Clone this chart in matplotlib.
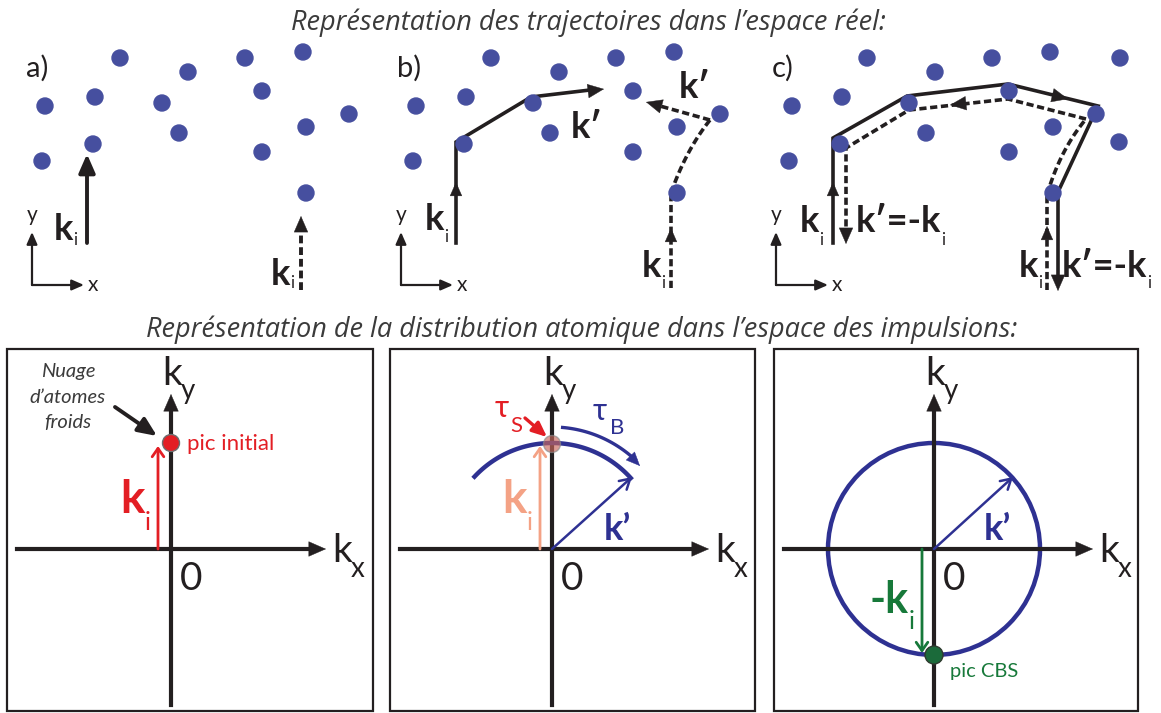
import numpy as np
import matplotlib.pyplot as plt
from matplotlib.patches import Circle, Rectangle

plt.rcParams['font.family'] = ['Lato', 'DejaVu Sans']

# scatterer positions (pixels) of panel a), panels b) and c) are shifted copies
dots_a = [(120, 58), (188, 72), (245, 58), (303, 52), (45, 106), (95, 97), (162, 103),
          (262, 91), (349, 114), (179, 133), (306, 127), (42, 161), (93, 144),
          (262, 152), (306, 193)]
shift_b = 371
shift_c = 747
dots_c_extra = [(1120, 58), (1119, 142)]

# trajectories
path_b_solid = [(456, 243), (456, 142), (531, 97), (590, 90)]
path_b_dash = [(671, 288), (671, 193)]
path_c_solid = [(833, 243), (833, 138), (907, 96), (1008, 84), (1098, 106), (1058, 192), (1058, 278)]
path_c_dash = [(1086, 119), (1008, 99), (909, 110), (846, 148), (846, 232)]

title_top = "Représentation des trajectoires dans l’espace réel:"
title_bot = "Représentation de la distribution atomique dans l’espace des impulsions:"

dot_col = '#464f9f'
blue = '#2e3192'
red = '#e31e24'
green = '#17793a'
salmon = '#f4a285'
ink = '#231f20'

fig = plt.figure(figsize=(11.61, 7.13), dpi=100)
ax = fig.add_axes([0, 0, 1, 1])
ax.set_xlim(0, 1161)
ax.set_ylim(713, 0)
ax.axis('off')
renderer = fig.canvas.get_renderer()


def head(tip, u, color=ink, size=13, style='-|>,head_length=0.8,head_width=0.35'):
    u = np.array(u, float)
    u = u / np.hypot(*u)
    frm = np.array(tip) - u * 10
    ax.annotate('', xy=tip, xytext=tuple(frm),
                arrowprops=dict(arrowstyle=style, color=color, lw=0.3,
                                mutation_scale=size, shrinkA=0, shrinkB=0))


def arrow(p0, p1, color=ink, lw=2.6, size=13, style='-|>,head_length=0.8,head_width=0.35'):
    ax.annotate('', xy=p1, xytext=p0,
                arrowprops=dict(arrowstyle=style, color=color, lw=lw,
                                mutation_scale=size, shrinkA=0, shrinkB=0))


def dline(pts, lw=2.6):
    pts = np.array(pts)
    ax.plot(pts[:, 0], pts[:, 1], color=ink, lw=lw, dashes=(2.0, 1.0), solid_capstyle='butt')


def qcurve(p0, c, p1, n=30):
    t = np.linspace(0, 1, n)[:, None]
    return (1 - t) ** 2 * np.array(p0) + 2 * (1 - t) * t * np.array(c) + t ** 2 * np.array(p1)


def dots(pts, dx):
    for x, y in pts:
        ax.add_patch(Circle((x + dx, y), 8, color=dot_col, zorder=3))


def xy_axes(x0, y0):
    arrow((x0, y0), (x0, 232), lw=1.6, size=9)
    arrow((x0, y0), (x0 + 52, y0), lw=1.6, size=9)
    ax.text(x0, 221, 'y', fontsize=15, ha='center', va='baseline', color=ink)
    ax.text(x0 + 56, y0, 'x', fontsize=15, ha='left', va='center', color=ink)


def ksub(x, y, main, sub, fs, sfs, gap, dy, color=ink, weight='bold'):
    t = ax.text(x, y, main, fontsize=fs, fontweight=weight, color=color, ha='left', va='baseline')
    bb = t.get_window_extent(renderer)
    xe = ax.transData.inverted().transform((bb.x1, bb.y0))[0]
    ax.text(xe + gap, y + dy, sub, fontsize=sfs, color=color, ha='left', va='baseline')


# ---------------- titles
tfont = ['Open Sans', 'DejaVu Sans']
ax.text(588, 30, title_top, fontsize=19.5, style='italic', color='#3b3b3b', ha='center',
        va='baseline', family=tfont)
ax.text(582, 337, title_bot, fontsize=19.5, style='italic', color='#3b3b3b', ha='center',
        va='baseline', family=tfont)

# ---------------- panel a
dots(dots_a, 0)
ax.text(26, 77, 'a)', fontsize=21, color=ink, ha='left', va='baseline')
xy_axes(32, 285)
arrow((87, 243), (87, 154), lw=2.8, size=14)
ksub(54, 240, 'k', 'i', 26, 12, 0, 5)
dline([(301, 290), (301, 226)], lw=2.8)
head((301, 216), (0, -1), size=14)
ksub(271, 285, 'k', 'i', 26, 12, 0, 3)

# ---------------- panel b
dots(dots_a, shift_b)
ax.text(397, 77, 'b)', fontsize=21, color=ink, ha='left', va='baseline')
xy_axes(401, 285)
pb = np.array(path_b_solid)
ax.plot(pb[:, 0], pb[:, 1], color=ink, lw=2.6, solid_joinstyle='miter')
head((604, 89), (1, -0.13), size=14)
head((456, 182), (0, -1), size=12)
ksub(425, 230, 'k', 'i', 26, 12, 0, 12)
ax.text(571, 138, 'k′', fontsize=26, fontweight='bold', color=ink, ha='left', va='baseline')
dline(path_b_dash)
dline(qcurve((671, 193), (686, 150), (710, 120)))
dline([(710, 120), (660, 106)])
head((646, 102), (-1, -0.28), size=14)
head((671, 228), (0, -1), size=12)
ksub(642, 277, 'k', 'i', 26, 12, 0, 11)
ax.text(679, 98, 'k′', fontsize=26, fontweight='bold', color=ink, ha='left', va='baseline')

# ---------------- panel c
dots(dots_a, shift_c)
dots(dots_c_extra, 0)
ax.text(772, 77, 'c)', fontsize=21, color=ink, ha='left', va='baseline')
xy_axes(776, 285)
pc = np.array(path_c_solid)
ax.plot(pc[:, 0], pc[:, 1], color=ink, lw=2.6, solid_joinstyle='miter')
head((1058, 291), (0, 1), size=14)
head((833, 182), (0, -1), size=12)
head((1068, 99), (1, 0.24), size=14)
dline([(1047, 290), (1047, 195)])
dline(qcurve((1047, 195), (1060, 150), (1086, 119)))
dline(path_c_dash)
head((846, 244), (0, 1), size=14)
head((1047, 226), (0, -1), size=12)
head((950, 105), (-1, 0.11), size=14)
ksub(800, 232, 'k', 'i', 26, 12, 0, 13)
ksub(856, 232, 'k′=-k', 'i', 26, 12, 0, 13)
ksub(1019, 277, 'k', 'i', 26, 12, 0, 11)
ksub(1062, 277, 'k′=-k', 'i', 26, 12, 0, 11)

# ---------------- momentum panels
boxes = [(7, 373), (390, 755), (774, 1138)]
origins = [(171, 549), (552, 549), (934, 549)]
radius = 106
for (x0, x1), (ox, oy) in zip(boxes, origins):
    ax.add_patch(Rectangle((x0, 349), x1 - x0, 362, fill=False, ec=ink, lw=1.6))
    ax.plot([ox, ox], [705, 408], color=ink, lw=3)
    ax.plot([x0 + 10, ox + 140], [oy, oy], color=ink, lw=3)
    head((ox, 394), (0, -1), size=15)
    head((x0 + 319, oy), (1, 0), size=15)
    ksub(ox - 9, 385, 'k', 'y', 28, 20, -1, 14, weight='normal')
    ksub(x0 + 325, 562, 'k', 'x', 28, 20, -1, 15, weight='normal')
    ax.text(ox + 9, 590, '0', fontsize=28, color=ink, ha='left', va='baseline')

# panel 1
ax.add_patch(Circle((171, 443), 8.5, fc=red, ec='#6d6e70', lw=1, zorder=4))
arrow((158, 549), (158, 446), color=red, lw=2, size=12, style='->,head_length=0.5,head_width=0.35')
ksub(120, 513, 'k', 'i', 33, 18, 0, 17, color=red)
ax.text(187, 450, 'pic initial', fontsize=16, color=red, ha='left', va='baseline')
for txt, yy in zip(['Nuage', 'd’atomes', 'froids'], [377, 403, 428]):
    ax.text(68, yy, txt, fontsize=14.5, style='italic', color='#3b3b3b', ha='center', va='baseline')
arrow((115, 407), (157, 436), lw=2.8, size=14)

# panel 2
ox, oy = origins[1]
th = np.radians(np.linspace(42, 137, 80))
ax.plot(ox + radius * np.cos(th), oy - radius * np.sin(th), color=blue, lw=3.2)
arrow((540, 549), (540, 446), color=salmon, lw=2, size=12, style='->,head_length=0.5,head_width=0.35')
ax.add_patch(Circle((552, 444), 8.5, fc='#c9675c', ec='#8a8a8a', lw=1, alpha=0.65, zorder=4))
ksub(502, 513, 'k', 'i', 33, 18, 0, 17, color=salmon)
arrow((552, 549), (632, 477), color=blue, lw=1.8, size=12, style='->,head_length=0.6,head_width=0.35')
ax.text(604, 540, 'k’', fontsize=26, fontweight='bold', color=blue, ha='left', va='baseline')
tb = np.radians(np.linspace(85, 47, 40))
ax.plot(ox + 122 * np.cos(tb), oy - 122 * np.sin(tb), color=blue, lw=2.4)
head((640, 466), (0.72, 0.75), color=blue, size=12)
arrow((525, 418), (547, 437), color=red, lw=2.4, size=11)
ksub(495, 417, 'τ', 'S', 22, 16, 1, 15, color=red, weight='normal')
ksub(593, 420, 'τ', 'B', 22, 16, 3, 14, color=blue, weight='normal')

# panel 3
ox, oy = origins[2]
ax.add_patch(Circle((ox, oy), radius, fill=False, ec=blue, lw=3.2))
arrow((934, 549), (1013, 477), color=blue, lw=1.8, size=12, style='->,head_length=0.6,head_width=0.35')
ax.text(984, 540, 'k’', fontsize=26, fontweight='bold', color=blue, ha='left', va='baseline')
arrow((922, 549), (922, 653), color=green, lw=2, size=12, style='->,head_length=0.5,head_width=0.35')
ax.add_patch(Circle((934, 655), 9, fc='#1b6a3a', ec='#2f3a2f', lw=1, zorder=4))
ksub(870, 613, '-k', 'i', 31, 18, 0, 16, color=green)
ax.text(950, 677, 'pic CBS', fontsize=14.5, color=green, ha='left', va='baseline')

fig.savefig('out.png', dpi=100)
